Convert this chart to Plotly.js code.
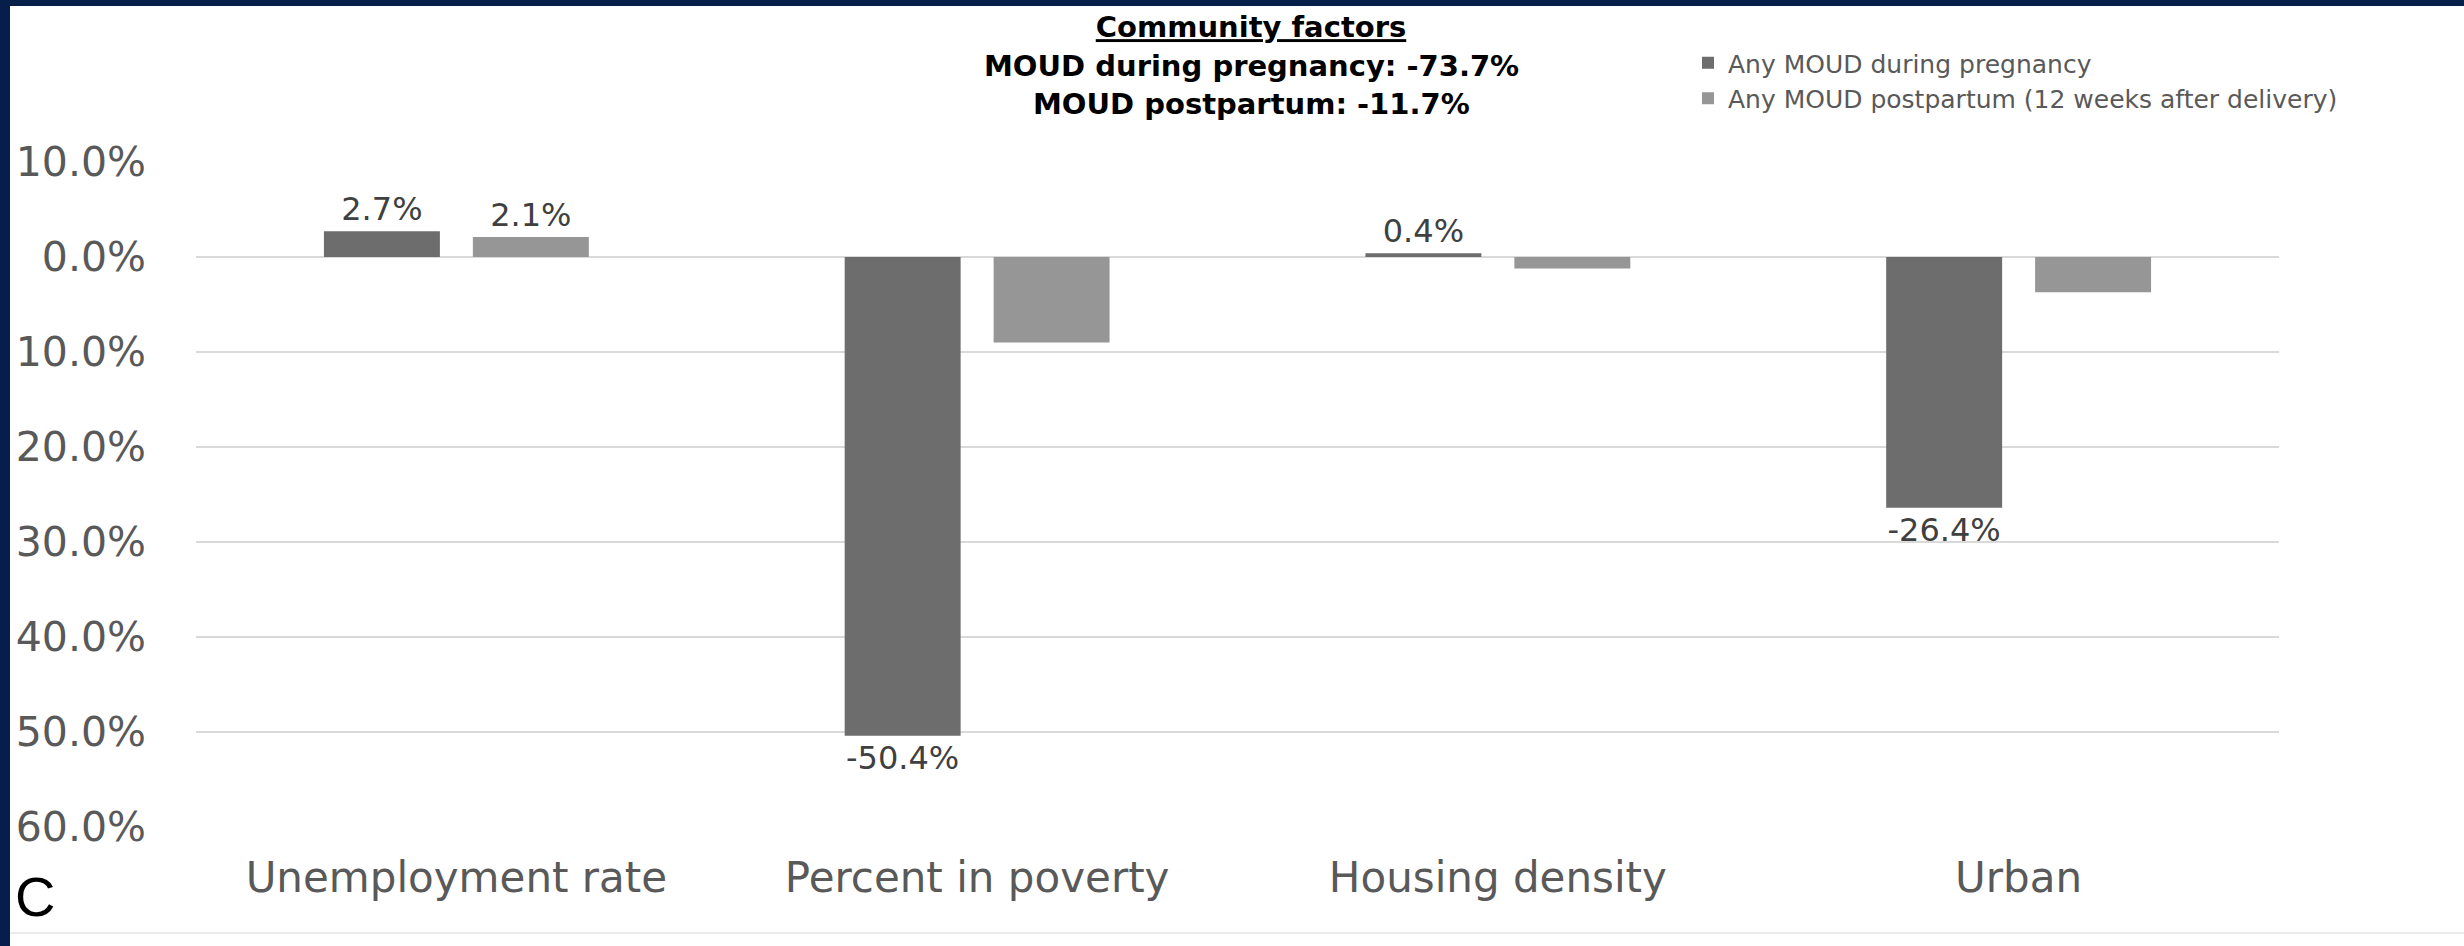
<!DOCTYPE html>
<html>
<head>
<meta charset="utf-8">
<script src="https://cdn.plot.ly/plotly-3.0.1.min.js"></script>
<style>
  html, body { margin: 0; padding: 0; background: #061f4a; width: 2464px; height: 946px; overflow: hidden; }
  #chart { position: absolute; left: 10px; top: 6px; width: 2454px; height: 940px; background: #ffffff; }
</style>
</head>
<body>
<div id="chart"></div>
<script>
// ---- data ----
const categories = ['Unemployment rate', 'Percent in poverty', 'Housing density', 'Urban'];
const seriesNames = ['Any MOUD during pregnancy', 'Any MOUD postpartum (12 weeks after delivery)'];
const pregnancyValues = [2.7, -50.4, 0.4, -26.4];
const postpartumValues = [2.1, -9.0, -1.2, -3.7];
const pregnancyLabels = ['2.7%', '-50.4%', '0.4%', '-26.4%'];
const postpartumLabels = ['2.1%', '', '', ''];
const yTickValues = [10, 0, -10, -20, -30, -40, -50, -60];
const yTickLabels = ['10.0%', '0.0%', '10.0%', '20.0%', '30.0%', '40.0%', '50.0%', '60.0%'];
const titleLines = ['Community factors', 'MOUD during pregnancy: -73.7%', 'MOUD postpartum: -11.7%'];
const panelLetter = 'C';

// ---- layout geometry (pixels inside the 2454x940 chart div) ----
const W = 2454, H = 940;
const mL = 186, mR = 185, mT = 156, mB = 119;
const plotW = W - mL - mR, plotH = H - mT - mB;
const px2x = p => (p - mL) / plotW;
const px2y = p => (H - mB - p) / plotH;

const FONT = 'DejaVu Sans, Verdana, sans-serif';
const TITLE_X = 1241;

const traces = [
  {
    type: 'bar', name: seriesNames[0], x: categories, y: pregnancyValues,
    text: pregnancyLabels, textposition: 'outside', cliponaxis: false, constraintext: 'none',
    textfont: { family: FONT, size: 32, color: '#404040' },
    marker: { color: '#6d6d6d' }, legendgroup: 'a', hoverinfo: 'x+y'
  },
  {
    type: 'bar', name: seriesNames[1], x: categories, y: postpartumValues,
    text: postpartumLabels, textposition: 'outside', cliponaxis: false, constraintext: 'none',
    textfont: { family: FONT, size: 32, color: '#404040' },
    marker: { color: '#969696' }, legendgroup: 'b', hoverinfo: 'x+y'
  }
];

const layout = {
  width: W, height: H,
  margin: { l: mL, r: mR, t: mT, b: mB, pad: 0 },
  paper_bgcolor: '#ffffff', plot_bgcolor: '#ffffff',
  font: { family: FONT, color: '#595959' },
  barmode: 'group', bargap: 0.428, bargroupgap: 0.2215,
  title: {
    text: '<b><u>' + titleLines[0] + '</u></b>',
    font: { family: FONT, size: 29, color: '#000000' },
    xref: 'container', yref: 'container',
    x: TITLE_X / W, xanchor: 'center',
    y: 1 - 21 / H, yanchor: 'middle'
  },
  xaxis: {
    type: 'category', showgrid: false, zeroline: false, showline: false, ticks: '',
    tickfont: { family: FONT, size: 42, color: '#595959' },
    ticklabelstandoff: 22
  },
  yaxis: {
    range: [-60, 10], tickvals: yTickValues, ticktext: yTickLabels,
    showgrid: true, gridcolor: '#d9d9d9', gridwidth: 2, zeroline: false, showline: false, ticks: '',
    tickfont: { family: FONT, size: 41, color: '#595959' },
    ticklabelstandoff: 49
  },
  showlegend: true,
  legend: {
    x: px2x(1678), xanchor: 'left',
    y: px2y(34), yanchor: 'top',
    font: { family: FONT, size: 25, color: '#595959' },
    traceorder: 'grouped', tracegroupgap: 0,
    bgcolor: 'rgba(0,0,0,0)', borderwidth: 0
  },
  annotations: [
    {
      text: '<b>' + titleLines[1] + '</b>', xref: 'paper', yref: 'paper',
      x: px2x(TITLE_X), y: px2y(60), xanchor: 'center', yanchor: 'middle',
      showarrow: false, font: { family: FONT, size: 29, color: '#000000' }
    },
    {
      text: '<b>' + titleLines[2] + '</b>', xref: 'paper', yref: 'paper',
      x: px2x(TITLE_X), y: px2y(98), xanchor: 'center', yanchor: 'middle',
      showarrow: false, font: { family: FONT, size: 29, color: '#000000' }
    },
    {
      text: panelLetter, xref: 'paper', yref: 'paper',
      x: px2x(25), y: px2y(891), xanchor: 'center', yanchor: 'middle',
      showarrow: false, font: { family: 'Liberation Sans, Arial, sans-serif', size: 56, color: '#000000' }
    }
  ],
  shapes: [
    {
      type: 'line', xref: 'paper', yref: 'paper',
      x0: px2x(0), x1: px2x(W), y0: px2y(927), y1: px2y(927),
      line: { color: '#ebebeb', width: 2 }
    }
  ]
};

Plotly.newPlot('chart', traces, layout, { displayModeBar: false, staticPlot: true });
</script>
</body>
</html>
